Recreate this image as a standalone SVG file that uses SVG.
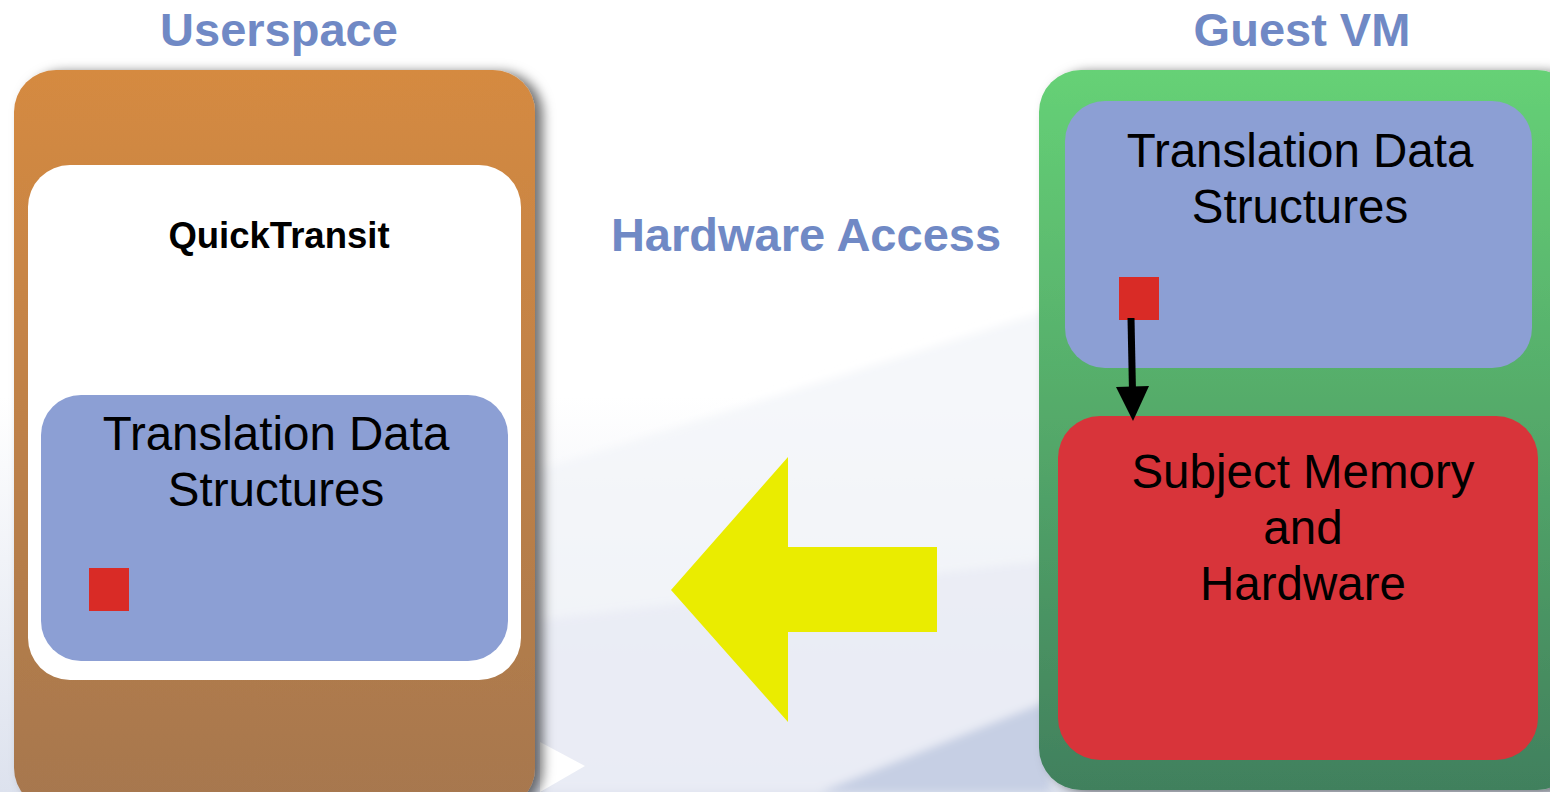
<svg xmlns="http://www.w3.org/2000/svg" width="1550" height="792" viewBox="0 0 1550 792">
<defs>
<linearGradient id="bg" x1="0" y1="0" x2="0" y2="1">
<stop offset="0" stop-color="#ffffff"/>
<stop offset="0.5" stop-color="#ffffff"/>
<stop offset="1" stop-color="#dde2ee"/>
</linearGradient>
<linearGradient id="orange" x1="0" y1="0" x2="0" y2="1">
<stop offset="0" stop-color="#d58a41"/>
<stop offset="1" stop-color="#a6774f"/>
</linearGradient>
<linearGradient id="green" x1="0" y1="0" x2="0" y2="1">
<stop offset="0" stop-color="#66d176"/>
<stop offset="1" stop-color="#41805d"/>
</linearGradient>
<filter id="sh" x="-10%" y="-10%" width="125%" height="125%">
<feDropShadow dx="8" dy="2" stdDeviation="6" flood-color="#000" flood-opacity="0.55"/>
</filter>
<filter id="blur"><feGaussianBlur stdDeviation="4"/></filter>
<style>
.title{font-family:"Liberation Sans",Arial,sans-serif;font-weight:bold;font-size:47px;fill:#7089c5;text-anchor:middle}
.lbl{font-family:"Liberation Sans",Arial,sans-serif;font-size:47.5px;fill:#000;text-anchor:middle}
.blue{fill:#8c9fd4}
.sq{fill:#d92b26}
</style>
</defs>
<rect width="1550" height="792" fill="url(#bg)"/>
<g filter="url(#blur)">
<polygon points="540,470 1050,310 1050,792 540,792" fill="#f3f5f9" opacity="0.8"/>
<polygon points="540,620 1050,560 1050,792 540,792" fill="#e6e9f3" opacity="0.6"/>
<polygon points="820,792 1050,700 1050,792" fill="#c6cfe4"/>
</g>
<polygon points="540,742 585,766 540,792" fill="#ffffff"/>

<g id="titles">
<text class="title" x="279" y="46">Userspace</text>
<text class="title" x="806" y="251">Hardware Access</text>
<text class="title" x="1302" y="46">Guest VM</text>
</g>

<g id="userspace">
<rect x="14" y="70" width="521" height="740" rx="42" fill="url(#orange)" filter="url(#sh)"/>
</g>
<g id="quicktransit">
<rect x="28" y="165" width="493" height="515" rx="42" fill="#ffffff"/>
<text x="279" y="248" font-family="Liberation Sans,Arial,sans-serif" font-weight="bold" font-size="36.5" text-anchor="middle" fill="#000">QuickTransit</text>
</g>
<g id="tds-left">
<rect x="41" y="395" width="467" height="266" rx="40" class="blue"/>
<text class="lbl" x="276" y="450">Translation Data</text>
<text class="lbl" x="276" y="506">Structures</text>
<rect x="89" y="568" width="40" height="43" class="sq"/>
</g>

<g id="guestvm">
<rect x="1039" y="70" width="540" height="720" rx="42" fill="url(#green)" filter="url(#sh)"/>
</g>
<g id="tds-right">
<rect x="1065" y="101" width="467" height="267" rx="40" class="blue"/>
<text class="lbl" x="1300" y="167">Translation Data</text>
<text class="lbl" x="1300" y="223">Structures</text>
<rect x="1119" y="277" width="40" height="43" class="sq"/>
</g>
<g id="subject">
<rect x="1058" y="416" width="480" height="344" rx="42" fill="#d8343a"/>
<text class="lbl" x="1303" y="488">Subject Memory</text>
<text class="lbl" x="1303" y="544">and</text>
<text class="lbl" x="1303" y="600">Hardware</text>
</g>

<g id="connectors">
<polygon points="671,590 788,457 788,547 937,547 937,632 788,632 788,722" fill="#eaec00"/>
<line x1="1131" y1="318" x2="1132.5" y2="392" stroke="#000" stroke-width="7"/>
<polygon points="1116,387 1149,386 1133,421" fill="#000"/>
</g>
</svg>
